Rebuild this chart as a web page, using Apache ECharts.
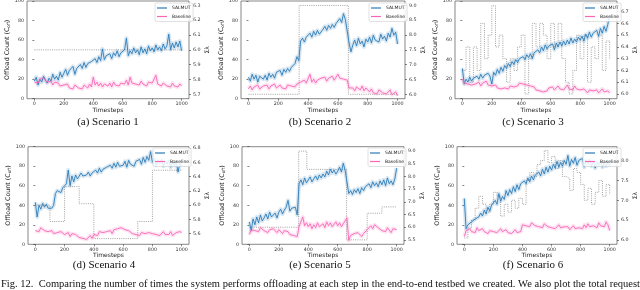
<!DOCTYPE html>
<html><head><meta charset="utf-8">
<script src="https://cdn.jsdelivr.net/npm/echarts@6/dist/echarts.min.js"></script>
<style>html,body{margin:0;padding:0;background:#fff}#c{width:640px;height:290px}</style>
</head><body><div id="c"></div>
<script>
// ---------- tick labels ----------
const xTicks = [0, 200, 400, 600, 800, 1000];
const yTicks = [0, 20, 40, 60, 80, 100];
const aRightTicks = [5.7, 5.8, 5.9, 6.0, 6.1, 6.2, 6.3];
const bRightTicks = [6.0, 6.5, 7.0, 7.5, 8.0, 8.5, 9.0];
const cRightTicks = [6.0, 6.1, 6.2, 6.3, 6.4, 6.5, 6.6, 6.7];
const dRightTicks = [5.6, 5.8, 6.0, 6.2, 6.4, 6.6, 6.8];
const eRightTicks = [5.5, 6.0, 6.5, 7.0, 7.5, 8.0, 8.5, 9.0];
const fRightTicks = [6.0, 6.5, 7.0, 7.5, 8.0];

// ---------- series values (81 samples over 0..1000 timesteps) ----------
const aSalmut = [18,22,14,20,17,23,19,16, 21,18,25,20,23,19,27,22, 26,30,24,29,27,33,25,31, 29,35,31,37,32,36,34,38,
  36,41,37,43,39,51,40,44, 42,46,41,47,44,49,43,47, 45,50,62,44,49,46,52,47, 50,45,53,47,51,46,54,49,
  52,48,55,50,53,49,56,51, 54,66,50,57,52,58,53,59, 49];
const aBaseline = [17,19,16,20,18,21,19,17, 16,18,14,17,15,16,13,15, 14,12,15,11,13,10,14,12, 11,13,10,14,12,11,15,12,
  22,14,17,13,16,12,15,14, 13,16,12,17,14,15,13,16, 17,15,19,14,22,16,18,15, 17,14,18,15,16,13,17,15,
  16,14,24,15,17,13,16,14, 13,15,12,16,13,14,12,15, 13];
const bSalmut = [22,18,25,20,24,17,23,21, 20,24,19,26,22,25,21,27, 26,29,24,30,27,31,28,32, 33,36,43,39,59,62,58,63,
  64,67,63,69,65,70,66,68, 71,74,70,75,72,76,73,77, 79,82,78,87,81,83,57,48, 55,60,54,62,56,59,53,61,
  58,63,57,65,60,62,58,66, 61,64,59,67,63,72,65,68, 56];
const bBaseline = [10,13,9,12,11,14,10,12, 13,11,14,10,13,12,15,11, 12,14,11,13,10,14,12,13, 14,12,15,13,17,15,19,16,
  18,25,17,20,16,19,17,21, 19,22,18,21,20,23,19,22, 25,21,23,20,22,19,11,9, 11,8,12,10,9,13,8,11,
  9,7,10,6,8,5,9,7, 6,8,5,7,9,4,6,7, 3];
const cSalmut = [31,15,20,17,22,18,21,19, 23,20,25,21,24,22,26,23, 15,27,24,30,26,32,28,34, 31,36,33,38,35,40,37,41,
  39,43,40,45,42,46,41,47, 46,50,47,53,49,55,51,54, 52,56,50,57,53,58,54,59, 55,60,56,62,57,61,58,63,
  60,64,59,66,62,68,63,67, 65,70,64,72,67,74,69,76, 85];
const cBaseline = [20,16,18,15,17,14,16,15, 14,17,13,16,15,18,14,16, 13,12,14,11,13,10,12,11, 12,10,13,11,12,14,13,16,
  18,15,13,14,12,13,11,12, 9,11,8,10,7,9,8,11, 10,12,9,11,13,10,12,9, 11,14,10,12,9,13,10,11,
  9,7,10,8,6,9,7,8, 7,9,6,8,10,7,9,8, 6];
const dSalmut = [43,28,40,36,42,38,41,37, 39,37,40,52,55,57,53,58, 56,62,76,60,70,64,71,67, 69,73,70,72,71,74,70,73,
  72,76,73,78,74,77,75,79, 77,81,78,83,79,84,80,82, 81,85,79,86,82,84,80,85, 83,87,82,89,84,90,86,95,
  84,88,81,86,83,87,80,85, 82,86,79,84,81,85,74,83, 80];
const dBaseline = [14,16,13,17,15,14,16,13, 12,14,11,13,12,10,13,11, 10,9,12,8,11,9,10,8, 7,9,6,8,5,7,9,6,
  10,12,9,13,11,12,10,13, 12,14,11,15,13,16,14,17, 18,15,13,14,12,11,13,10, 11,9,12,10,11,9,12,10,
  11,13,10,12,9,11,13,10, 12,10,13,9,11,12,10,13, 12];
const eSalmut = [23,14,26,20,28,22,30,24, 27,31,26,33,28,30,32,27, 33,36,31,35,38,45,34,37, 35,38,30,62,66,61,68,63,
  65,69,64,67,70,66,71,68, 72,69,75,71,77,73,76,72, 75,79,74,83,76,78,52,55, 51,56,53,57,52,58,55,59,
  57,62,58,64,60,63,59,65, 61,66,60,68,62,65,61,67, 78];
const eBaseline = [10,15,17,14,16,13,17,15, 14,16,12,15,13,16,14,12, 15,13,11,14,12,13,10,12, 9,7,8,18,20,28,19,22,
  18,21,16,20,17,22,18,19, 21,17,23,19,22,18,20,23, 19,22,18,21,24,27,4,9, 8,11,9,12,10,8,11,10,
  15,17,19,16,20,18,17,19, 14,16,13,17,15,12,16,14, 15];
const fSalmut = [47,16,20,18,23,21,26,24, 28,32,29,35,31,38,34,40, 39,45,41,52,44,49,46,55, 50,56,52,59,54,61,56,62,
  60,65,62,68,64,70,66,71, 69,74,70,77,72,79,74,80, 76,82,78,85,79,84,80,86, 82,91,80,87,83,89,81,86,
  84,88,79,86,82,87,80,85, 78,84,81,86,79,83,80,84, 80];
const fBaseline = [8,14,12,16,13,15,12,17, 14,12,16,13,15,11,14,16, 13,15,12,14,16,13,11,15, 12,14,11,13,15,12,14,13,
  20,22,19,21,18,22,20,19, 21,18,20,17,21,19,18,20, 17,19,16,18,20,17,15,18, 16,18,15,17,19,16,14,17,
  18,16,20,17,21,18,16,19, 20,17,22,19,21,18,23,20, 14];

// ---------- total request rate (step lines, right axis) ----------
const aReqT = [0, 1000];
const aReqV = [6.0, 6.0];
const bReqT = [0, 340, 670, 1000];
const bReqV = [6.0, 9.0, 6.0, 6.0];
const cReqT = [0,25,50,75,100,125,150,175,200,225,250,275,300,325,350,375,400,425,450,475,500,525,550,575,600,625,650,675,700,725,750,775,800,825,850,875,900,925,950,975,1000];
const cReqV = [6.2,6.4,6.1,6.4,6.2,6.6,6.3,6.5,6.75,6.4,6.5,6.3,6.1,6.3,6.2,6.4,6.5,6.0,6.3,6.6,6.4,6.6,6.5,6.3,6.6,6.4,6.6,6.3,6.1,6.0,6.2,6.5,6.3,6.5,6.1,6.4,6.3,6.5,6.2,6.45,6.3];
const dReqT = [0, 100, 200, 300, 400, 700, 800, 1000];
const dReqV = [6.0, 5.77, 6.26, 6.02, 5.53, 5.77, 6.49, 6.49];
const eReqT = [0, 335, 390, 660, 800, 900, 1000];
const eReqV = [6.0, 9.0, 8.28, 5.5, 6.55, 6.8, 6.8];
const fReqT = cReqT;
const fReqV = [6.05,6.3,6.5,6.8,7.1,6.9,6.7,6.9,7.2,7.1,6.6,6.9,6.7,7.0,6.8,7.05,6.9,7.5,7.7,7.6,7.9,8.0,8.25,7.95,8.1,7.8,8.0,7.6,7.55,7.25,7.8,7.7,7.4,7.0,7.3,6.9,7.2,7.5,7.1,7.4,7.15];

const captions = ['(a) Scenario 1', '(b) Scenario 2', '(c) Scenario 3', '(d) Scenario 4', '(e) Scenario 5', '(f) Scenario 6'];
const figCaption = 'Fig. 12.  Comparing the number of times the system performs offloading at each step in the end-to-end testbed we created. We also plot the total request';

// ---------- layout ----------
const panels = [
  {grid:{left:27, top:1, width:162, height:97.7}, sal:aSalmut, base:aBaseline, rt:aReqT, rv:aReqV, rTicks:aRightTicks, rLim:[5.67,6.33], lg:{left:155, top:3}, cx:108, cy:122},
  {grid:{left:241, top:1, width:164, height:97.7}, sal:bSalmut, base:bBaseline, rt:bReqT, rv:bReqV, rTicks:bRightTicks, rLim:[5.85,9.15], lg:{left:369, top:3}, cx:320, cy:122},
  {grid:{left:455, top:1, width:162, height:97.7}, sal:cSalmut, base:cBaseline, rt:cReqT, rv:cReqV, rTicks:cRightTicks, rLim:[5.96,6.79], lg:{left:583, top:3}, cx:533, cy:122},
  {grid:{left:28, top:146.7, width:161, height:97.6}, sal:dSalmut, base:dBaseline, rt:dReqT, rv:dReqV, rTicks:dRightTicks, rLim:[5.45,6.82], lg:{left:153, top:148}, cx:104, cy:265},
  {grid:{left:242, top:146.7, width:162, height:97.6}, sal:eSalmut, base:eBaseline, rt:eReqT, rv:eReqV, rTicks:eRightTicks, rLim:[5.325,9.175], lg:{left:368, top:148}, cx:320, cy:265},
  {grid:{left:457, top:146.7, width:160, height:97.6}, sal:fSalmut, base:fBaseline, rt:fReqT, rv:fReqV, rTicks:fRightTicks, rLim:[5.89,8.35], lg:{left:583, top:148}, cx:533, cy:265}
];
panels.forEach((p,k)=>{ p.cap = captions[k]; });

const FONT = 'DejaVu Sans';
const BLUE = '#2a7ab9', BLUE_BAND = 'rgba(31,119,180,0.18)';
const PINK = '#f767b6', PINK_BAND = 'rgba(247,103,182,0.18)';
const tickStyle = {color:'#333', width:0.6};
const lblStyle = {fontSize:4.8, color:'#333', fontFamily:FONT};

const grids=[], xAxes=[], yAxes=[], series=[], legends=[], graphics=[];
const pts = arr => arr.map((v,i)=>[i*1000/(arr.length-1), v]);

panels.forEach((p,k)=>{
  grids.push(Object.assign({show:true, borderColor:'#555', borderWidth:0.7, backgroundColor:'#fff', containLabel:false, outerBoundsMode:'none'}, p.grid));
  xAxes.push({type:'value', gridIndex:k, min:-50, max:1050, name:'Timesteps', nameLocation:'middle', nameGap:7,
    nameTextStyle:{fontSize:6, fontFamily:FONT, color:'#222'},
    axisLine:{show:false}, splitLine:{show:false},
    axisTick:{show:true, length:2, lineStyle:tickStyle, customValues:xTicks},
    axisLabel:Object.assign({margin:2.5, customValues:xTicks, formatter:v=>String(v)}, lblStyle)});
  yAxes.push({type:'value', gridIndex:k, position:'left', min:0, max:100,
    name:'Offload Count (C{s|off})', nameLocation:'middle', nameGap:12, nameRotate:90,
    nameTextStyle:{fontSize:6.3, fontFamily:FONT, color:'#222', rich:{s:{fontSize:4.3, fontFamily:FONT, color:'#222', padding:[3,0,0,0]}}},
    axisLine:{show:false}, splitLine:{show:false},
    axisTick:{show:true, length:2, lineStyle:tickStyle, customValues:yTicks},
    axisLabel:Object.assign({margin:3, customValues:yTicks, formatter:v=>String(v)}, lblStyle)});
  yAxes.push({type:'value', gridIndex:k, position:'right', min:p.rLim[0], max:p.rLim[1],
    name:'Σλ', nameLocation:'middle', nameGap:15, nameRotate:90,
    nameTextStyle:{fontSize:6, fontFamily:FONT, color:'#222'},
    axisLine:{show:false}, splitLine:{show:false},
    axisTick:{show:true, length:2, lineStyle:tickStyle, customValues:p.rTicks},
    axisLabel:Object.assign({margin:4, customValues:p.rTicks, formatter:v=>v.toFixed(1)}, lblStyle)});
  const yl = 2*k, yr = 2*k+1;
  const common = {type:'line', xAxisIndex:k, showSymbol:false, symbol:'none', silent:true, animation:false};
  series.push(Object.assign({}, common, {name:'Requests', yAxisIndex:yr, step:'end', data:p.rt.map((t,i)=>[t, p.rv[i]]), lineStyle:{color:'#8a8a8a', width:0.8, type:[1,1.2]}, z:1}));
  series.push(Object.assign({}, common, {name:'SALMUT band', yAxisIndex:yl, data:pts(p.sal), lineStyle:{color:BLUE_BAND, width:4, join:'round'}, z:2}));
  series.push(Object.assign({}, common, {name:'Baseline band', yAxisIndex:yl, data:pts(p.base), lineStyle:{color:PINK_BAND, width:4, join:'round'}, z:2}));
  series.push(Object.assign({}, common, {name:'SALMUT', yAxisIndex:yl, data:pts(p.sal), itemStyle:{color:BLUE}, lineStyle:{color:BLUE, width:0.9}, z:3}));
  series.push(Object.assign({}, common, {name:'Baseline', yAxisIndex:yl, data:pts(p.base), itemStyle:{color:PINK}, lineStyle:{color:PINK, width:0.9}, z:3}));
  legends.push({left:p.lg.left, top:p.lg.top, orient:'vertical', itemWidth:10, itemHeight:1.2, itemGap:3.5,
    padding:[2.5,2,2.5,2], selectedMode:false, borderColor:'#ccc', borderWidth:0.6, borderRadius:1.5,
    backgroundColor:'rgba(255,255,255,0.85)', z:10,
    textStyle:{fontSize:4.5, fontFamily:FONT, color:'#222'},
    data:[{name:'SALMUT', icon:'rect'},{name:'Baseline', icon:'rect'}]});
  graphics.push({type:'text', x:p.cx, y:p.cy, style:{text:p.cap, font:'11px "Liberation Serif"', fill:'#111', align:'center', verticalAlign:'middle'}});
});
graphics.push({type:'text', x:1, y:284.5, style:{text:figCaption, font:'10.5px "Liberation Serif"', fill:'#111', align:'left', verticalAlign:'middle'}});

const chart = echarts.init(document.getElementById('c'), null, {renderer:'canvas', width:640, height:290});
chart.setOption({animation:false, backgroundColor:'#fff', grid:grids, xAxis:xAxes, yAxis:yAxes, series:series, legend:legends, graphic:graphics});
</script></body></html>
